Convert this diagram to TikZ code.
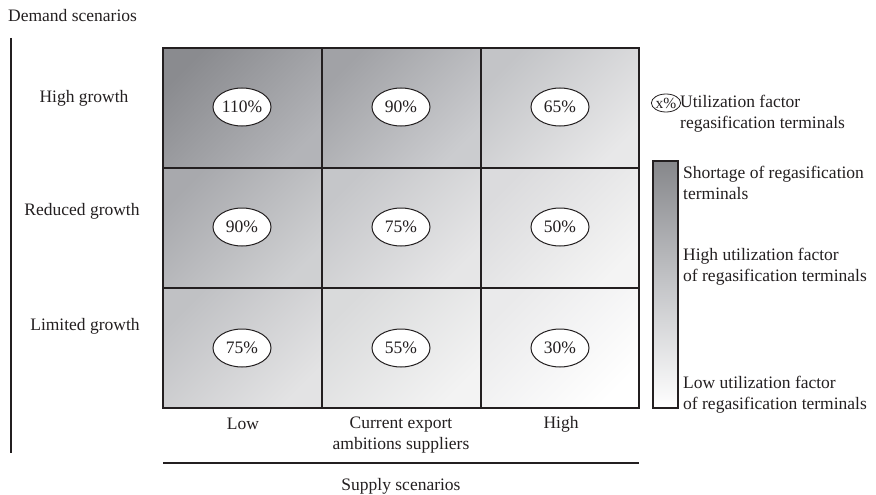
\documentclass[tikz,border=0pt]{standalone}
\usepackage{fontspec}
\setmainfont{Liberation Serif}
\usetikzlibrary{shapes.geometric}
\definecolor{ink}{HTML}{231F20}
\definecolor{cA}{HTML}{8A8B8F}\definecolor{cAb}{HTML}{B3B4B8}
\definecolor{cB}{HTML}{A1A2A6}\definecolor{cBb}{HTML}{CBCCCF}
\definecolor{cC}{HTML}{C3C4C7}\definecolor{cCb}{HTML}{E8E8E9}
\definecolor{cD}{HTML}{A8A9AD}\definecolor{cDb}{HTML}{CFD0D2}
\definecolor{cE}{HTML}{C5C6C9}\definecolor{cEb}{HTML}{E6E6E7}
\definecolor{cF}{HTML}{DBDBDD}\definecolor{cFb}{HTML}{F4F4F4}
\definecolor{cG}{HTML}{C0C1C4}\definecolor{cGb}{HTML}{E3E3E4}
\definecolor{cH}{HTML}{D9DADB}\definecolor{cHb}{HTML}{F3F3F3}
\definecolor{cI}{HTML}{EAEAEB}\definecolor{cIb}{HTML}{FFFFFF}
\definecolor{barTop}{HTML}{86878B}
\definecolor{barMid}{HTML}{C4C5C8}
\tikzset{
  txt/.style={font=\fontsize{17.5}{20.5}\selectfont, inner sep=0pt, text=ink},
  cell/.style 2 args={draw=ink, line width=1.5pt, top color=#1, bottom color=#2, shading angle=45},
  pct/.style={ellipse, draw=ink, line width=1pt, fill=white, minimum width=58pt, minimum height=38pt, inner sep=0pt, font=\fontsize{17.5}{20}\selectfont, text=ink},
  rule/.style={draw=ink, line width=1.2pt}
}
\begin{document}
\begin{tikzpicture}[x=1pt,y=-1pt]
\useasboundingbox (0,0) rectangle (876,495);
% cells
\path[cell={cA}{cAb}] (163,48) rectangle (322,168);
\path[cell={cB}{cBb}] (322,48) rectangle (481,168);
\path[cell={cC}{cCb}] (481,48) rectangle (639,168);
\path[cell={cD}{cDb}] (163,168) rectangle (322,288);
\path[cell={cE}{cEb}] (322,168) rectangle (481,288);
\path[cell={cF}{cFb}] (481,168) rectangle (639,288);
\path[cell={cG}{cGb}] (163,288) rectangle (322,408);
\path[cell={cH}{cHb}] (322,288) rectangle (481,408);
\path[cell={cI}{cIb}] (481,288) rectangle (639,408);
% percentages
\node[pct] (p11) at (242,107) {110\%};
\node[pct] (p12) at (401,107) {90\%};
\node[pct] (p13) at (560,107) {65\%};
\node[pct] (p21) at (242,227) {90\%};
\node[pct] (p22) at (401,227) {75\%};
\node[pct] (p23) at (560,227) {50\%};
\node[pct] (p31) at (242,348) {75\%};
\node[pct] (p32) at (401,348) {55\%};
\node[pct] (p33) at (560,348) {30\%};
% axes
\node[txt, anchor=west] (demand) at (8,16) {Demand scenarios};
\coordinate (vtop) at (11,38);
\coordinate (vbot) at (11,453);
\draw[rule] (vtop) -- (vbot);
\node[txt] (r1) at (84,98) {High growth};
\node[txt] (r2) at (82,211) {Reduced growth};
\node[txt] (r3) at (85,326) {Limited growth};
\node[txt] (c1) at (243,424) {Low};
\node[txt, align=center, anchor=north] (c2) at (401,417) {Current export\\ambitions suppliers};
\node[txt] (c3) at (561,424) {High};
\coordinate (hl) at (163,463);
\coordinate (hr) at (639,463);
\draw[rule] (hl) -- (hr);
\node[txt] (supply) at (401,486) {Supply scenarios};
% legend
\node[ellipse, draw=ink, line width=0.8pt, minimum width=23pt, minimum height=18pt, inner sep=0pt, font=\fontsize{15.5}{17}\selectfont, text=ink] (lx) at (666,103) {x\%};
\node[txt, anchor=north west, align=left] (ltxt) at (680,95) {Utilization factor\\regasification terminals};
\path[draw=ink, line width=1.2pt, top color=barTop, bottom color=white, middle color=barMid] (653,161) rectangle (678,408);
\node[txt, anchor=north west, align=left] (l1) at (683,166) {Shortage of regasification\\terminals};
\node[txt, anchor=north west, align=left] (l2) at (683,248) {High utilization factor\\of regasification terminals};
\node[txt, anchor=north west, align=left] (l3) at (683,376) {Low utilization factor\\of regasification terminals};
\end{tikzpicture}
\end{document}
